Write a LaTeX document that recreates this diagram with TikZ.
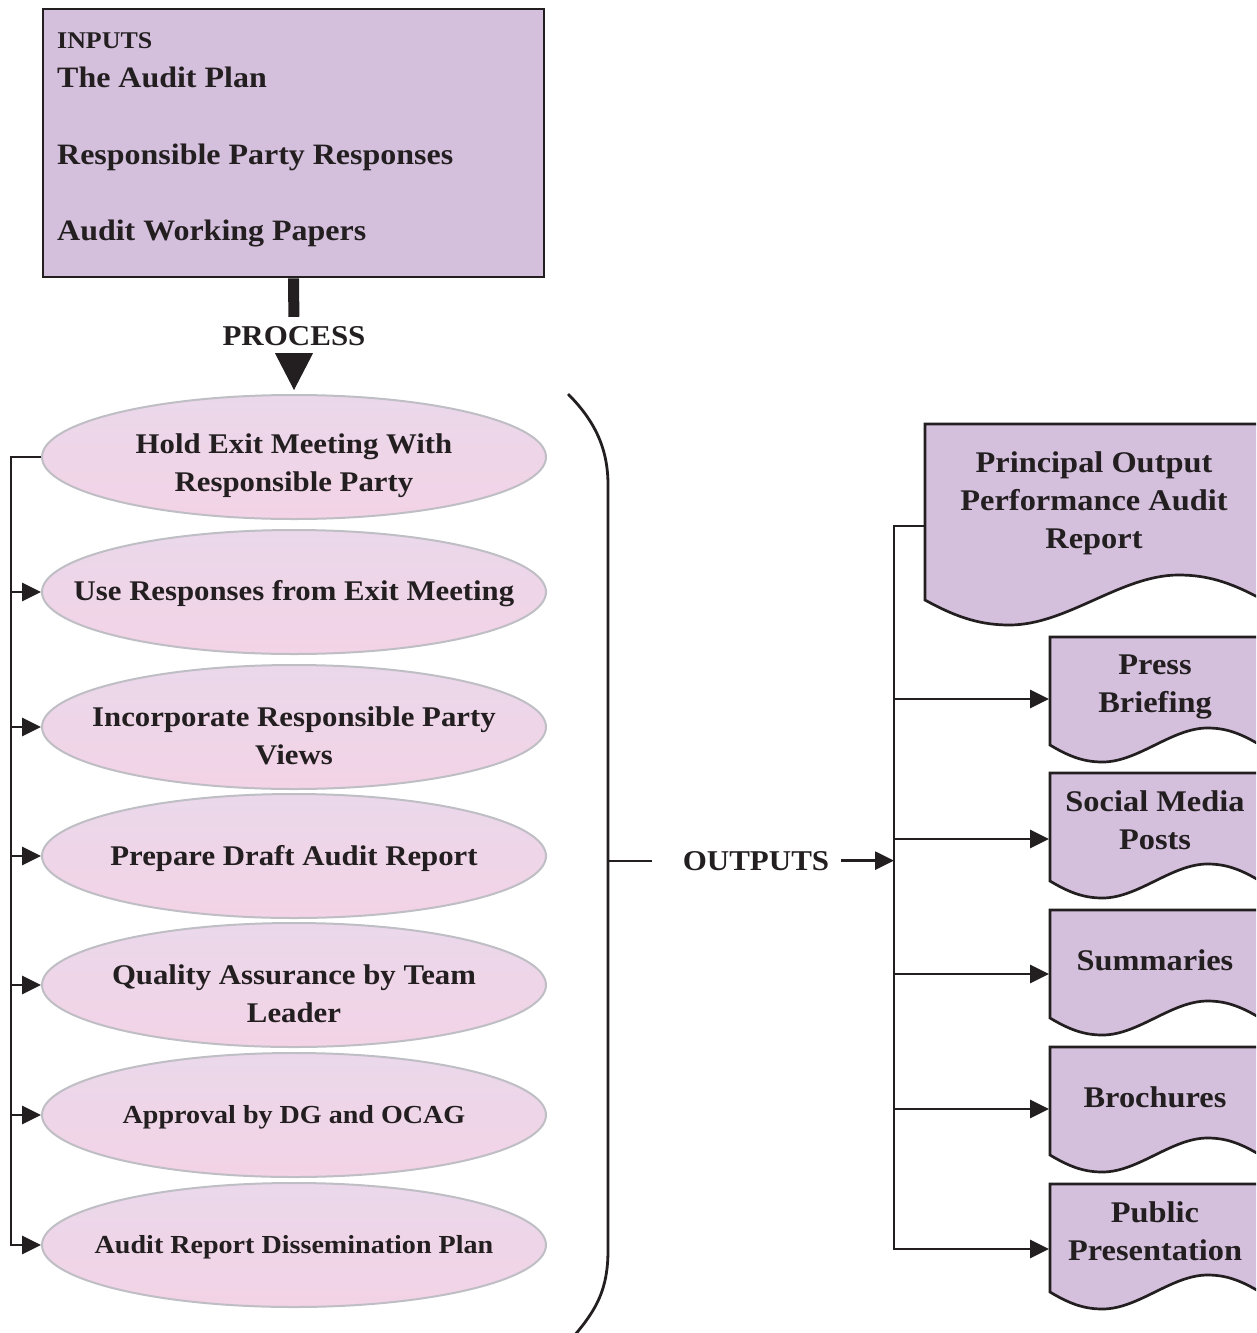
\documentclass[tikz,border=0pt]{standalone}
\usepackage{fontspec}
\setmainfont{Liberation Serif}[FakeStretch=1.08]
\usetikzlibrary{arrows.meta,shapes.geometric}

\definecolor{ink}{RGB}{35,31,32}
\definecolor{docfill}{RGB}{212,191,220}
\definecolor{ovaltop}{RGB}{234,216,234}
\definecolor{ovalbot}{RGB}{243,211,230}
\definecolor{ovaledge}{RGB}{190,190,196}

% document symbol with a wavy lower edge:
% #1 left x, #2 top y, #3 width, #4 height of the left side, #5 wave amplitude
\newcommand\wavydoc[5]{%
  \path[docshape] (#1,#2) -- (#1,{#2+#4})
    .. controls ({#1+0.10*#3},{#2+#4+0.75*#5}) and ({#1+0.17*#3},{#2+#4+#5}) .. ({#1+0.25*#3},{#2+#4+#5})
    .. controls ({#1+0.42*#3},{#2+#4+#5}) and ({#1+0.58*#3},{#2+#4-#5}) .. ({#1+0.75*#3},{#2+#4-#5})
    .. controls ({#1+0.83*#3},{#2+#4-#5}) and ({#1+0.90*#3},{#2+#4-0.75*#5}) .. ({#1+#3},{#2+#4})
    -- ({#1+#3},#2) -- cycle;}

\begin{document}
\begin{tikzpicture}[x=1pt,y=-1pt,
  conn/.style={draw=ink,line width=2.8pt},
  tip/.style={-{Triangle[length=19pt,width=18pt]}},
  oval/.style={ellipse,draw=ovaledge,line width=2pt,top color=ovaltop,bottom color=ovalbot,
    minimum width=504pt,minimum height=124pt,inner sep=0pt},
  ovaltext/.style={align=center,text=ink,inner sep=0pt,yshift=-2pt,
    font=\bfseries\fontsize{28.5}{38}\selectfont},
  twoline/.style={yshift=-7pt},
  smalltext/.style={font=\bfseries\fontsize{26}{38}\selectfont},
  docshape/.style={draw=ink,line width=2.7pt,fill=docfill,line join=miter},
  doctext/.style={align=center,text=ink,inner sep=0pt,font=\bfseries\fontsize{30}{38}\selectfont},
  intext/.style={anchor=base west,inner sep=0pt,text=ink,font=\bfseries\fontsize{29.6}{38}\selectfont},
  lbl/.style={anchor=base,inner sep=0pt,text=ink,font=\bfseries\fontsize{28.7}{38}\selectfont}
]
\clip (0,0) rectangle (1256,1333);

% ---- inputs ----
\node[draw=ink,line width=2.7pt,fill=docfill,minimum width=501pt,minimum height=268pt,inner sep=0pt]
  (inputs) at (293.5,143) {};
\node[intext,font=\bfseries\fontsize{24}{28}\selectfont] (inHead) at (57,48) {INPUTS};
\node[intext] (inPlan) at (57,87) {The Audit Plan};
\node[intext] (inResp) at (57,164) {Responsible Party Responses};
\node[intext] (inPapers) at (57,240) {Audit Working Papers};

% ---- process steps ----
\node[lbl] (process) at (294,345) {PROCESS};

\node[oval] (e1) at (294,457) {};
\node[oval] (e2) at (294,592) {};
\node[oval] (e3) at (294,727) {};
\node[oval] (e4) at (294,856) {};
\node[oval] (e5) at (294,985) {};
\node[oval] (e6) at (294,1115) {};
\node[oval] (e7) at (294,1245) {};

\node[ovaltext,twoline] (t1) at (e1) {Hold Exit Meeting With\\Responsible Party};
\node[ovaltext] (t2) at (e2) {Use Responses from Exit Meeting};
\node[ovaltext,twoline] (t3) at (e3) {Incorporate Responsible Party\\Views};
\node[ovaltext] (t4) at (e4) {Prepare Draft Audit Report};
\node[ovaltext,twoline] (t5) at (e5) {Quality Assurance by Team\\Leader};
\node[ovaltext,smalltext] (t6) at (e6) {Approval by DG and OCAG};
\node[ovaltext,smalltext] (t7) at (e7) {Audit Report Dissemination Plan};

\draw[ink,line width=11pt,shorten >=9pt] (inputs.south) -- (process.north);
\draw[ink,line width=1pt,shorten <=9pt,shorten >=4pt,-{Triangle[length=37pt,width=38pt]}]
  (process.south) -- (e1.north);

% left feedback bus
\coordinate (lbus) at (11,1245);
\draw[conn,tip] (e1.west) -| (lbus) -- (e7.west);
\foreach \s in {e2,e3,e4,e5,e6}
  \draw[conn,tip] (\s.west -| lbus) -- (\s.west);

% bracket round the process steps
\coordinate (brk) at (608,861);
\draw[conn] (568,394) .. controls (596,422) and (608,450) .. (608,485)
  -- (608,1250) .. controls (608,1290) and (596,1310) .. (574,1336);

% ---- outputs ----
\node[lbl] (outputs) at (756,870) {OUTPUTS};
\draw[conn,shorten >=31pt] (brk) -- (brk -| outputs.west);

\coordinate (rtop) at (894,526);
\coordinate (rbot) at (894,1249);
\draw[conn,tip,shorten <=12pt] (outputs.east) -- (outputs.east -| rtop);

\wavydoc{925}{424}{338}{176}{25}
\wavydoc{1050}{637}{210}{108}{17}
\wavydoc{1050}{773}{210}{108}{17}
\wavydoc{1050}{910}{210}{108}{17}
\wavydoc{1050}{1047}{210}{108}{17}
\wavydoc{1050}{1184}{210}{108}{17}

\node[doctext] (principal) at (1094,503) {Principal Output\\Performance Audit\\Report};
\node[doctext] (press) at (1155,687) {Press\\Briefing};
\node[doctext] (social) at (1155,820) {Social Media\\Posts};
\node[doctext] (summaries) at (1155,960) {Summaries};
\node[doctext] (brochures) at (1155,1097) {Brochures};
\node[doctext] (public) at (1155,1231) {Public\\Presentation};

\coordinate (principalIn) at (925,526);
\coordinate (pressIn) at (1049,699);
\coordinate (socialIn) at (1049,839);
\coordinate (summariesIn) at (1049,974);
\coordinate (brochuresIn) at (1049,1109);
\coordinate (publicIn) at (1049,1249);

\draw[conn,tip] (principalIn) -| (rbot) -- (publicIn);
\foreach \d in {pressIn,socialIn,summariesIn,brochuresIn}
  \draw[conn,tip] (\d -| rtop) -- (\d);
\end{tikzpicture}
\end{document}
